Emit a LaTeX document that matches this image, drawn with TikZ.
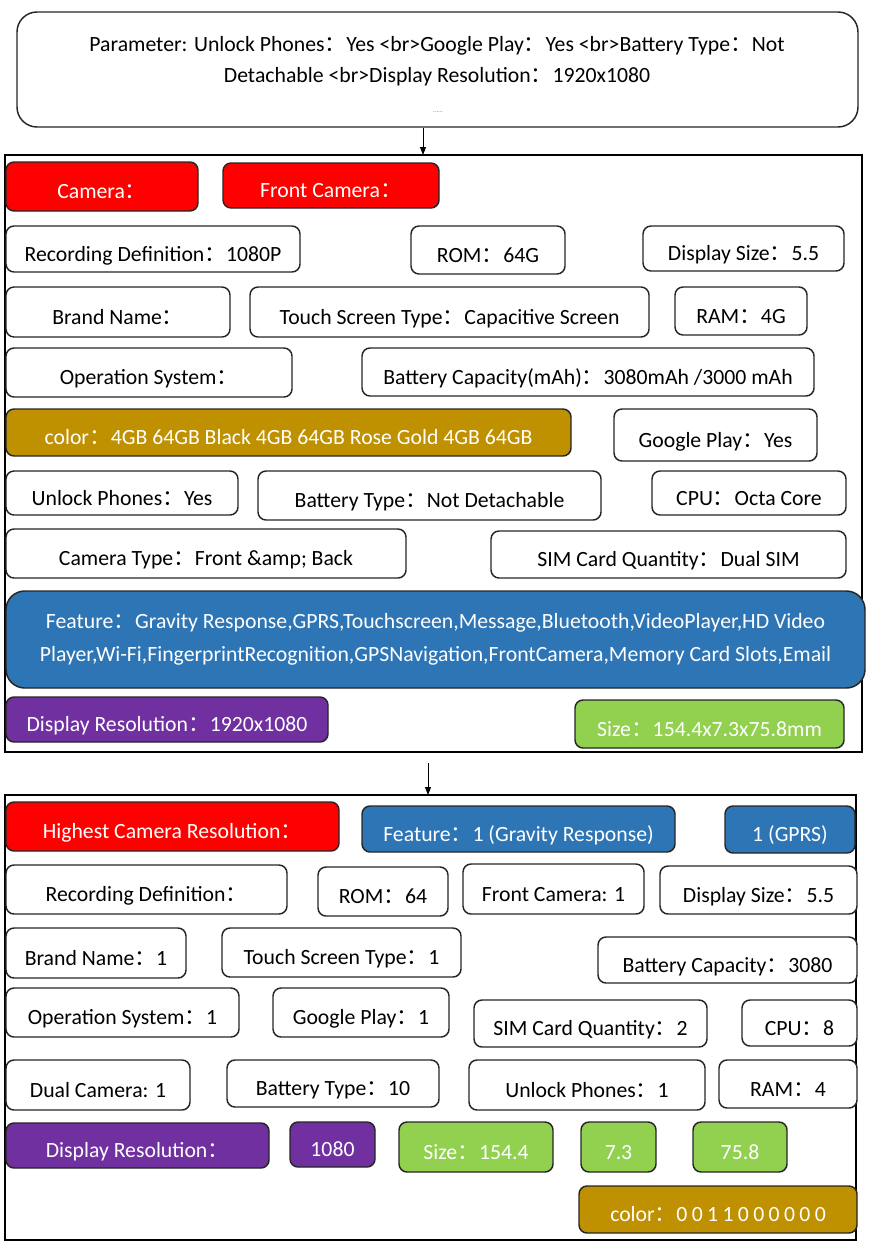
\documentclass[tikz,border=0pt]{standalone}
\usepackage{fontspec}
\setmainfont{Carlito}
\newfontfamily\cjk{Noto Sans CJK SC}
\usetikzlibrary{arrows.meta}
\newcommand\cc{{\cjk ：}}
\definecolor{cred}{HTML}{FF0000}
\definecolor{cblue}{HTML}{2E75B6}
\definecolor{cpurple}{HTML}{7030A0}
\definecolor{cgreen}{HTML}{92D050}
\definecolor{cgold}{HTML}{BF9000}
\definecolor{edge}{HTML}{262626}
\newcommand\bx[7]{\node[#2, anchor=north west, minimum width={(#5-#3)*0.75pt}, minimum height={(#6-#4)*0.75pt}] (#1) at (#3,#4) {#7};}
\tikzset{
  base/.style={rounded corners=6pt, draw=edge, line width=1.1pt, inner sep=0pt, outer sep=0pt, align=center, font=\fontsize{16.3pt}{19pt}\selectfont, text height=18pt, text depth=0pt},
  wbox/.style={base, fill=white, text=black},
  rbox/.style={base, fill=cred, text=white},
  bbox/.style={base, fill=cblue, text=white},
  pbox/.style={base, fill=cpurple, text=white},
  gbox/.style={base, fill=cgreen, text=white},
  obox/.style={base, fill=cgold, text=white},
  frame/.style={draw=black, line width=1.5pt, inner sep=0pt, outer sep=0pt},
  arr/.style={draw=black, line width=0.7pt, -{Triangle[length=6pt,width=4.5pt]}}
}
\begin{document}
\begin{tikzpicture}[x=0.75pt,y=-0.75pt]
\useasboundingbox (0,0) rectangle (890,1256);
% top box
\bx{top}{wbox, rounded corners=15pt}{17}{12}{858}{127}{}
\node[font=\fontsize{16.3pt}{23.25pt}\selectfont, align=center, anchor=north] (toptext) at (437,32) {Parameter: Unlock Phones\cc Yes <br>Google Play\cc Yes <br>Battery Type\cc Not\\Detachable <br>Display Resolution\cc 1920x1080};
\node[font=\fontsize{5pt}{6pt}\selectfont, text=gray] (dots) at (438,112) {……};
% frame 1
\bx{f1}{frame}{5}{155}{862}{752}{}
\coordinate (a1s) at (423,128);
\draw[arr] (a1s) -- (a1s |- f1.north);
\bx{camera}{rbox}{6}{162}{198}{211}{Camera\cc}
\bx{front}{rbox}{223}{163}{439}{208}{Front Camera\cc}
\bx{rec}{wbox}{6}{226}{300}{272}{Recording Definition\cc 1080P}
\bx{rom}{wbox}{411}{226}{565}{274}{ROM\cc 64G}
\bx{dsize}{wbox}{643}{226}{844}{271}{Display Size\cc 5.5}
\bx{brand}{wbox}{6}{287}{230}{337}{Brand Name\cc}
\bx{touch}{wbox}{250}{287}{649}{337}{Touch Screen Type\cc Capacitive Screen}
\bx{ram}{wbox}{675}{287}{807}{335}{RAM\cc 4G}
\bx{os}{wbox}{6}{348}{292}{397}{Operation System\cc}
\bx{batt}{wbox}{362}{348}{814}{396}{Battery Capacity(mAh)\cc 3080mAh /3000 mAh}
\bx{color}{obox}{6}{409}{571}{456}{color\cc 4GB 64GB Black 4GB 64GB Rose Gold 4GB 64GB}
\bx{gplay}{wbox}{614}{409}{817}{461}{Google Play\cc Yes}
\bx{unlock}{wbox}{6}{471}{238}{515}{Unlock Phones\cc Yes}
\bx{btype}{wbox}{258}{471}{601}{520}{Battery Type\cc Not Detachable}
\bx{cpu}{wbox}{652}{471}{846}{515}{CPU\cc Octa Core}
\bx{ctype}{wbox}{6}{529}{406}{578}{Camera Type\cc Front \&amp; Back}
\bx{sim}{wbox}{491}{531}{846}{578}{SIM Card Quantity\cc Dual SIM}
\bx{feat}{bbox, rounded corners=14pt, font=\fontsize{16.3pt}{24.75pt}\selectfont, text height=, text depth=}{6}{591}{865}{688}{Feature\cc Gravity Response,GPRS,Touchscreen,Message,Bluetooth,VideoPlayer,HD Video\\Player,Wi-Fi,FingerprintRecognition,GPSNavigation,FrontCamera,Memory Card Slots,Email}
\bx{dres}{pbox}{6}{697}{328}{742}{Display Resolution\cc 1920x1080}
\bx{size}{gbox}{575}{700}{844}{748}{Size\cc 154.4x7.3x75.8mm}
% frame 2
\bx{f2}{frame}{5}{795}{856}{1240}{}
\coordinate (a2s) at (428,763);
\draw[arr] (a2s) -- (a2s |- f2.north);
\bx{hcr}{rbox}{6}{802}{339}{851}{Highest Camera Resolution\cc}
\bx{feat2}{bbox}{362}{806}{675}{852}{Feature\cc 1 (Gravity Response)}
\bx{gprs}{bbox}{725}{806}{855}{853}{1 (GPRS)}
\bx{rec2}{wbox}{6}{865}{287}{914}{Recording Definition\cc}
\bx{rom2}{wbox}{318}{867}{448}{916}{ROM\cc 64}
\bx{front2}{wbox}{463}{864}{644}{914}{Front Camera: 1}
\bx{dsize2}{wbox}{660}{866}{857}{914}{Display Size\cc 5.5}
\bx{brand2}{wbox}{6}{928}{186}{978}{Brand Name\cc 1}
\bx{touch2}{wbox}{222}{928}{461}{977}{Touch Screen Type\cc 1}
\bx{batt2}{wbox}{598}{937}{857}{983}{Battery Capacity\cc 3080}
\bx{os2}{wbox}{6}{988}{239}{1037}{Operation System\cc 1}
\bx{gplay2}{wbox}{273}{988}{449}{1037}{Google Play\cc 1}
\bx{sim2}{wbox}{474}{1000}{707}{1047}{SIM Card Quantity\cc 2}
\bx{cpu2}{wbox}{742}{1000}{857}{1046}{CPU\cc 8}
\bx{dual2}{wbox}{6}{1060}{190}{1110}{Dual Camera: 1}
\bx{btype2}{wbox}{227}{1060}{439}{1107}{Battery Type\cc 10}
\bx{unlock2}{wbox}{469}{1060}{705}{1110}{Unlock Phones\cc 1}
\bx{ram2}{wbox}{719}{1060}{857}{1108}{RAM\cc 4}
\bx{dres2}{pbox}{6}{1123}{269}{1168}{Display Resolution\cc}
\bx{res1080}{pbox}{290}{1122}{375}{1167}{1080}
\bx{size2}{gbox}{399}{1122}{553}{1172}{Size\cc 154.4}
\bx{size73}{gbox}{581}{1122}{656}{1172}{7.3}
\bx{size758}{gbox}{693}{1122}{787}{1172}{75.8}
\bx{color2}{obox}{579}{1186}{857}{1233}{color\cc {\addfontfeature{LetterSpace=20}0011000000}}
\end{tikzpicture}
\end{document}
